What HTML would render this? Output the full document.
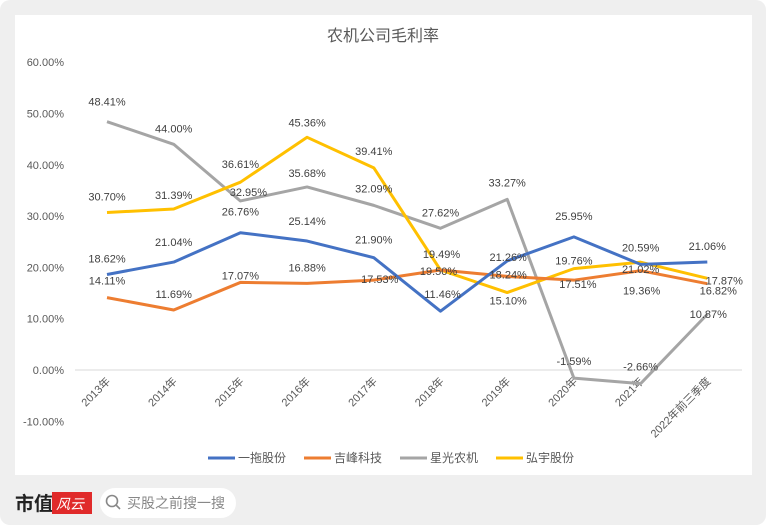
<!DOCTYPE html>
<html><head><meta charset="utf-8"><style>
body{margin:0;width:766px;height:529px;background:#fff;font-family:"Liberation Sans","Noto Sans CJK SC",sans-serif;overflow:hidden}
#card{position:absolute;left:0;top:0;width:766px;height:525px;background:#efefef;border-radius:10px}
#panel{position:absolute;left:15px;top:15px;width:737px;height:460px;background:#fff}
svg{position:absolute;left:0;top:0}
</style></head><body>
<div id="card"></div>
<div id="panel"></div>
<svg id="chart" width="766" height="529">
<text x="383" y="41" text-anchor="middle" font-size="16" fill="#595959">农机公司毛利率</text>
<g id="grid"></g><g id="series"></g><g id="labels"></g><g id="legend"></g>
<g>
<text x="15" y="510" font-size="19" font-weight="bold" fill="#222">市值</text>
<rect x="52" y="492" width="40" height="22" fill="#e02a2a"/>
<text x="56" y="509" font-size="14" fill="#fff" font-style="italic">风云</text>
<rect x="100" y="488" width="136" height="30" rx="15" fill="#fff"/>
<circle cx="112" cy="501" r="5.5" fill="none" stroke="#888" stroke-width="1.6"/>
<line x1="116" y1="505" x2="120" y2="509" stroke="#888" stroke-width="1.6"/>
<text x="127" y="508" font-size="14" fill="#888">买股之前搜一搜</text>
</g>
</svg>
<script>
const categories=["2013年","2014年","2015年","2016年","2017年","2018年","2019年","2020年","2021年","2022年前三季度"];
const yituo=[18.62,21.04,26.76,25.14,21.90,11.46,21.26,25.95,20.59,21.06];
const jifeng=[14.11,11.69,17.07,16.88,17.53,19.50,18.24,17.51,19.36,16.82];
const xingguang=[48.41,44.00,32.95,35.68,32.09,27.62,33.27,-1.59,-2.66,10.87];
const hongyu=[30.70,31.39,36.61,45.36,39.41,19.49,15.10,19.76,21.02,17.87];
const seriesNames=["一拖股份","吉峰科技","星光农机","弘宇股份"];
const yTicks=[-10,0,10,20,30,40,50,60];
// label placement offsets (pixels, layout only)
const offY=[[-16,-20,-21,-20,-18,-17,-4,-21,-17,-16],[-17,-16,-7,-16,-1,1,-2,4,20,7],[-20,-16,-9,-14,-17,-16,-17,-17,-17,0],[-16,-14,-18,-15,-17,-16,8,-8,7,2]];
const offX=[[0,0,0,0,0,2,1,0,0,0],[0,0,0,0,6,-2,1,4,1,11],[0,0,8,0,0,0,0,0,0,1],[0,0,0,0,0,1,1,0,0,17]];
const NS="http://www.w3.org/2000/svg";
const X=i=>107+i*66.7, Y=v=>370-v*5.13;
function mk(t,a,p){const e=document.createElementNS(NS,t);for(const k in a)e.setAttribute(k,a[k]);p.appendChild(e);return e;}
const grid=document.getElementById('grid');
yTicks.forEach(v=>{const t=mk('text',{x:64,y:Y(v)+4,'text-anchor':'end','font-size':11,fill:'#595959'},grid);t.textContent=v.toFixed(2)+'%';

});
const zl=mk('line',{x1:75,x2:742,y1:Y(0),y2:Y(0),stroke:'#d9d9d9','stroke-width':1},grid);


categories.forEach((c,i)=>{const t=mk('text',{x:X(i)+4,y:382,'text-anchor':'end','font-size':11,fill:'#595959',transform:`rotate(-45 ${X(i)+4} 382)`},grid);t.textContent=c;

});
const data=[yituo,jifeng,xingguang,hongyu],colors=["#4472C4","#ED7D31","#A5A5A5","#FFC000"],keys=["yituo","jifeng","xingguang","hongyu"];
const sg=document.getElementById('series'),lg=document.getElementById('labels');
[2,3,1,0].forEach(s=>{const p=mk('polyline',{points:data[s].map((v,i)=>X(i)+','+Y(v)).join(' '),fill:'none',stroke:colors[s],'stroke-width':3,'stroke-linejoin':'round'},sg);


data[s].forEach((v,i)=>{const t=mk('text',{x:X(i)+offX[s][i],y:Y(v)+offY[s][i]+4,'text-anchor':'middle','font-size':11,fill:'#404040'},lg);t.textContent=v.toFixed(2)+'%';

});});
const leg=document.getElementById('legend');
seriesNames.forEach((n,s)=>{const x0=208+s*96;const l=mk('line',{x1:x0,x2:x0+27,y1:458,y2:458,stroke:colors[s],'stroke-width':3},leg);


const t=mk('text',{x:x0+30,y:462,'font-size':12,fill:'#595959'},leg);t.textContent=n;

});
</script>
</body></html>
